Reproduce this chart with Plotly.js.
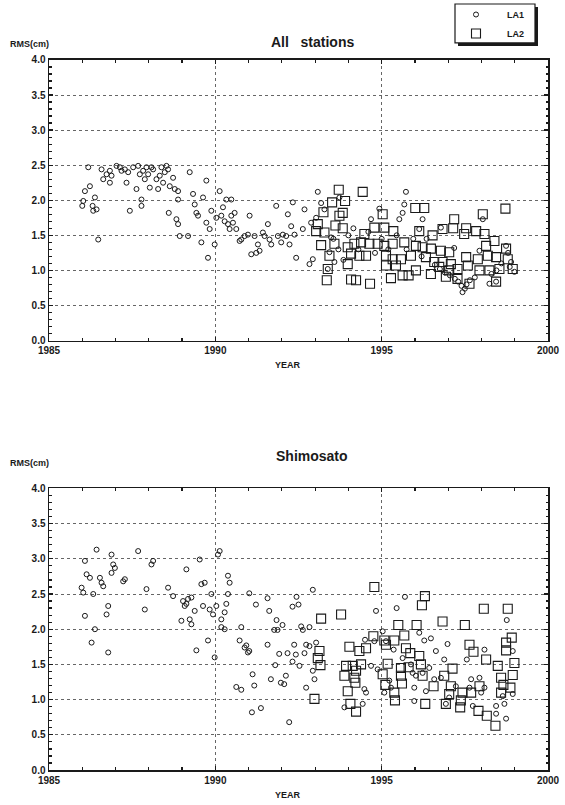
<!DOCTYPE html>
<html>
<head>
<meta charset="utf-8">
<script src="https://cdn.plot.ly/plotly-3.0.1.min.js"></script>
<style>html,body{margin:0;padding:0;background:#fff;}#chart{width:565px;height:805px;}</style>
</head>
<body>
<div id="chart"></div>
<script>
// ---------- Top panel: All stations ----------
const allLA1Year = [1986.00,1986.03,1986.18,1986.23,1986.08,1986.31,1986.33,1986.38,1986.43,1986.48,1986.58,1986.63,1986.73,1986.83,1986.83,1986.88,1987.03,1987.13,1987.18,1987.28,1987.38,1987.33,1987.43,1987.53,1987.63,1987.68,1987.73,1987.78,1987.78,1987.83,1987.88,1987.93,1987.98,1988.03,1988.08,1988.13,1988.23,1988.28,1988.33,1988.38,1988.43,1988.48,1988.53,1988.58,1988.63,1988.73,1988.78,1988.88,1988.88,1988.60,1988.83,1988.88,1988.93,1989.18,1989.23,1989.33,1989.38,1989.43,1989.48,1989.58,1989.63,1989.73,1989.73,1989.78,1989.83,1989.88,1989.98,1990.03,1990.13,1990.18,1990.23,1990.28,1990.33,1990.38,1990.43,1990.48,1990.48,1990.53,1990.58,1990.63,1990.73,1990.78,1990.88,1990.98,1991.03,1991.08,1991.18,1991.23,1991.28,1991.33,1991.43,1991.48,1991.58,1991.63,1991.68,1991.83,1991.88,1991.98,1992.03,1992.13,1992.18,1992.23,1992.28,1992.33,1992.38,1992.43,
  1992.68,1992.63,1993.08,1993.18,1992.83,1992.93,1992.88,1993.03,1993.28,1993.48,1993.43,1993.38,1993.58,1993.73,1994.93,1995.73,1995.68,1995.53,1995.63,1996.23,1996.13,1994.68,1996.78,1997.18,1997.94,1998.04,1997.43,1998.24,1998.44,1998.74,1998.89,1998.99,
  1993.55,1993.70,1993.85,1994.00,1994.15,1994.30,1994.60,1994.80,1995.00,1995.20,1995.45,1995.75,1995.95,1996.20,1996.35,1996.60,1996.75,1996.90,1997.05,1997.20,1997.30,1997.40,1997.50,1997.55,1997.65,1997.80,1998.30,1998.45,1998.60,1998.80,1998.85];
const allLA1Rms = [1.92,1.99,2.47,2.20,2.13,1.92,1.85,2.04,1.87,1.44,2.44,2.30,2.37,2.25,2.42,2.35,2.49,2.47,2.42,2.44,2.40,2.25,1.85,2.47,2.16,2.49,2.37,2.01,1.92,2.42,2.30,2.47,2.37,2.18,2.47,2.44,2.30,2.16,2.35,2.47,2.25,2.40,2.49,2.44,2.20,2.32,2.16,2.13,2.01,1.82,1.73,1.66,1.49,1.49,2.40,2.09,1.94,1.82,1.78,1.40,2.04,2.28,1.68,1.18,1.59,1.85,1.37,1.75,2.13,1.78,1.90,1.70,2.01,1.66,1.59,2.01,1.78,1.68,1.82,1.59,1.42,1.44,1.49,1.51,1.78,1.23,1.49,1.25,1.37,1.28,1.54,1.49,1.66,1.44,1.37,1.92,1.49,1.40,1.51,1.49,1.80,1.37,1.63,1.97,1.51,1.18,
  1.87,1.59,2.12,1.96,1.09,1.16,1.68,1.75,1.87,1.47,1.26,1.02,1.12,2.04,1.88,2.12,1.94,1.73,1.82,1.73,1.59,1.73,1.61,1.32,1.28,1.73,0.69,0.81,0.84,1.35,1.12,0.98,
  1.45,1.30,1.15,1.50,1.60,1.30,1.55,1.25,1.45,1.30,1.50,1.30,1.45,1.20,1.45,1.08,1.02,0.97,0.93,0.88,0.84,0.78,0.74,0.80,0.86,0.90,0.95,1.00,1.10,1.25,1.05];
const allLA2Year = [1993.71,1994.43,1993.90,1993.51,1993.83,1993.73,1993.25,1995.03,1996.01,1996.28,1993.08,1993.61,1993.83,1994.78,1995.08,1997.18,1998.04,1998.72,1993.03,1993.28,1994.48,1995.35,1996.13,1996.53,1996.83,1997.15,1997.54,1997.48,1997.84,1998.09,1998.39,1993.18,1993.58,1993.98,1994.18,1994.38,1994.63,1994.88,1995.08,1995.33,1995.68,1996.03,1996.23,1996.48,1996.78,1997.03,1998.14,1998.74,1993.43,1994.08,1994.33,1994.53,1995.13,1995.33,1995.58,1995.88,1996.33,1996.58,1996.83,1997.08,1997.54,1997.89,1998.19,1998.44,1998.79,1993.98,1993.38,1995.13,1995.43,1996.03,1996.73,1997.03,1997.28,1997.59,1997.94,1998.24,1998.54,1998.94,1993.35,1994.08,1994.23,1994.65,1995.28,1995.63,1995.81,1996.48,1996.93,1997.28,1997.64,1998.44];
const allLA2Rms = [2.15,2.12,1.99,1.97,1.82,1.78,1.83,1.80,1.89,1.89,1.66,1.64,1.60,1.61,1.61,1.73,1.80,1.88,1.56,1.54,1.52,1.56,1.56,1.50,1.59,1.60,1.60,1.52,1.56,1.52,1.42,1.36,1.38,1.33,1.38,1.40,1.38,1.38,1.35,1.38,1.40,1.35,1.33,1.31,1.28,1.26,1.35,1.31,1.21,1.24,1.21,1.21,1.21,1.16,1.16,1.21,1.19,1.12,1.12,1.09,1.19,1.16,1.21,1.19,1.16,1.09,1.02,1.07,1.07,1.00,1.05,1.00,1.02,1.07,1.00,1.00,1.02,1.02,0.86,0.87,0.86,0.81,0.89,0.93,0.93,0.95,0.91,0.88,0.81,0.84];

// ---------- Bottom panel: Shimosato ----------
const shiLA1Year = [1986.43,1986.08,1986.13,1986.23,1985.98,1986.03,1986.33,1986.53,1986.58,1986.63,1986.88,1986.93,1986.88,1986.98,1987.23,1987.28,1987.68,1987.93,1987.88,1988.13,1988.08,1988.58,1988.73,1986.08,1986.38,1986.28,1986.73,1986.78,1986.78,1989.13,1989.03,1989.13,1989.18,1989.28,1989.08,1989.58,1989.68,1989.63,1989.83,1989.93,1989.38,1988.98,1989.23,1989.28,1989.43,1989.53,1990.08,1990.13,1989.88,1990.38,1990.43,1990.38,1990.33,1990.03,1990.28,1990.18,1990.18,1989.98,1989.78,1990.28,1990.78,1990.73,1990.93,1990.88,1990.98,1990.63,1990.78,
  1991.02,1991.22,1991.57,1991.62,1991.84,1992.02,1991.77,1991.87,1992.32,1992.50,1992.44,1992.93,1992.58,1992.63,1992.83,1991.57,1991.92,1992.17,1992.37,1992.42,1992.73,1992.83,1993.03,1992.68,1991.02,1991.80,1992.32,1992.53,1992.93,1991.12,1991.67,1992.12,1991.97,1992.07,1991.17,1992.73,1992.98,1991.10,1991.37,1992.22,
  1994.83,1995.45,1995.70,1994.50,1994.78,1995.03,1995.13,1995.36,1996.13,1996.28,1996.48,1996.98,1996.63,1996.88,1997.56,1998.09,1998.76,1998.94,1994.68,1994.88,1994.48,1994.53,1993.88,1994.43,1995.23,1995.08,1995.28,1995.63,1995.88,1995.93,1995.98,1996.03,1996.23,1996.33,1996.43,1996.58,1996.78,1997.23,1997.64,1997.69,1997.94,1998.09,1997.99,1995.98,1996.93,1997.03,1997.74,1998.44,1998.69,1998.44,1998.74,1998.64,1998.94];
const shiLA1Rms = [3.13,2.97,2.78,2.73,2.59,2.52,2.50,2.73,2.66,2.61,3.06,2.92,2.80,2.87,2.68,2.71,3.11,2.57,2.28,2.97,2.92,2.59,2.47,2.19,2.00,1.81,2.21,2.33,1.67,2.85,2.40,2.36,2.43,2.45,2.33,2.64,2.66,2.33,2.28,2.21,2.26,2.12,2.14,2.07,1.70,2.99,3.06,3.11,2.50,2.76,2.66,2.50,2.36,2.33,2.24,2.14,2.03,1.60,1.84,2.00,2.03,1.84,1.77,1.74,1.67,1.18,1.14,
  2.51,2.35,2.44,2.26,2.13,2.06,1.99,1.99,2.32,2.35,2.46,2.56,2.04,1.99,2.03,1.78,1.65,1.66,1.78,1.64,1.78,1.76,1.81,1.66,1.69,1.49,1.54,1.48,1.41,1.36,1.29,1.34,1.24,1.22,1.20,1.17,1.29,0.82,0.88,0.68,
  2.26,2.30,2.46,1.85,1.83,1.97,1.83,1.71,1.95,1.84,1.87,1.79,1.69,1.57,1.57,1.71,2.13,1.69,1.48,1.43,1.15,1.10,0.89,0.94,1.27,1.10,1.17,1.59,1.50,1.38,1.17,1.34,1.38,1.12,1.45,1.29,1.31,1.19,1.17,1.29,1.31,1.17,1.10,0.98,0.94,1.03,0.91,0.91,0.94,0.80,0.73,1.05,1.08];
const shiLA2Year = [1994.78,1996.30,1996.21,1998.07,1998.79,1993.18,1993.78,1995.50,1996.05,1996.83,1997.50,1994.75,1995.08,1995.38,1995.68,1998.91,1998.74,1994.03,1994.53,1994.33,1995.13,1995.73,1995.86,1996.13,1997.64,1997.76,1998.74,1993.13,1993.08,1993.16,1998.99,1998.14,1997.13,1993.93,1994.13,1994.38,1995.18,1995.58,1995.81,1996.18,1998.49,1993.88,1994.18,1994.23,1995.03,1995.58,1996.23,1996.88,1998.94,1998.59,1994.21,1995.11,1995.61,1996.56,1997.08,1997.94,1998.66,1998.87,1993.98,1992.98,1995.38,1997.03,1997.43,1997.69,1998.59,1995.40,1996.31,1996.93,1997.38,1994.06,1994.23,1997.36,1997.91,1998.16,1998.42];
const shiLA2Rms = [2.60,2.47,2.34,2.29,2.29,2.15,2.21,2.06,2.06,2.11,2.06,1.90,1.84,1.84,1.91,1.88,1.81,1.75,1.73,1.69,1.78,1.73,1.66,1.62,1.78,1.68,1.70,1.69,1.59,1.49,1.52,1.57,1.44,1.48,1.48,1.50,1.51,1.45,1.46,1.50,1.48,1.34,1.31,1.41,1.36,1.34,1.34,1.34,1.35,1.31,1.24,1.21,1.23,1.19,1.19,1.19,1.21,1.17,1.12,1.01,1.10,1.08,1.10,1.10,1.10,0.99,0.94,0.94,0.99,0.94,0.83,0.89,0.84,0.77,0.63];

// ---------- Labels ----------
const seriesNames = ['LA1', 'LA2'];
const panelTitles = ['All&nbsp;&nbsp;&nbsp;stations', 'Shimosato'];
const yLabel = 'RMS(cm)';
const xLabel = 'YEAR';

const ink = '#1a1a1a';
const la1Marker = {symbol: 'circle-open', size: 5, color: ink, line: {width: 1, color: ink}};
const la2Marker = {symbol: 'square-open', size: 9, color: ink, line: {width: 1.1, color: ink}};

const traces = [
  {x: allLA1Year, y: allLA1Rms, name: seriesNames[0], type: 'scatter', mode: 'markers', marker: la1Marker, xaxis: 'x', yaxis: 'y', legendrank: 1},
  {x: allLA2Year, y: allLA2Rms, name: seriesNames[1], type: 'scatter', mode: 'markers', marker: la2Marker, xaxis: 'x', yaxis: 'y', legendrank: 2},
  {x: shiLA1Year, y: shiLA1Rms, name: seriesNames[0], type: 'scatter', mode: 'markers', marker: la1Marker, xaxis: 'x2', yaxis: 'y2', showlegend: false},
  {x: shiLA2Year, y: shiLA2Rms, name: seriesNames[1], type: 'scatter', mode: 'markers', marker: la2Marker, xaxis: 'x2', yaxis: 'y2', showlegend: false}
];

const W = 565, H = 805;
const px = v => v / W;
const py = v => 1 - v / H;

function xAxis(anchor) {
  return {
    anchor: anchor, domain: [px(49), px(548)], range: [1985, 2000], tick0: 1985, dtick: 5,
    ticks: 'inside', ticklen: 4, tickwidth: 1.2, tickcolor: ink,
    showline: true, linecolor: ink, linewidth: 1.5, mirror: 'ticks',
    showgrid: true, gridcolor: '#666', griddash: 'dot', gridwidth: 1, zeroline: false,
    minor: {dtick: 1, ticks: 'inside', ticklen: 3, tickcolor: ink, showgrid: false},
    tickfont: {size: 10, weight: 'bold', color: ink}, automargin: false, fixedrange: true
  };
}
function yAxis(anchor, top, bottom) {
  return {
    anchor: anchor, domain: [py(bottom), py(top)], range: [0, 4], tick0: 0, dtick: 0.5, tickformat: '.1f',
    ticks: 'inside', ticklen: 4, tickwidth: 1.2, tickcolor: ink,
    showline: true, linecolor: ink, linewidth: 1.5, mirror: 'ticks',
    showgrid: true, gridcolor: '#666', griddash: 'dot', gridwidth: 1, zeroline: false,
    minor: {dtick: 0.1, ticks: 'inside', ticklen: 2.5, tickcolor: ink, showgrid: false},
    tickfont: {size: 10, weight: 'bold', color: ink}, automargin: false, fixedrange: true
  };
}

const labelFont = {family: 'Liberation Sans, Arial, sans-serif', size: 9, weight: 'bold', color: ink};
const titleFont = {family: 'Liberation Sans, Arial, sans-serif', size: 14, weight: 'bold', color: ink};

const layout = {
  width: W, height: H,
  margin: {l: 0, r: 0, t: 0, b: 0},
  paper_bgcolor: '#fff', plot_bgcolor: '#fff',
  font: {family: 'Liberation Sans, Arial, sans-serif', size: 10, color: ink},
  xaxis: xAxis('y'),
  yaxis: yAxis('x', 59, 340),
  xaxis2: xAxis('y2'),
  yaxis2: yAxis('x2', 488, 770),
  showlegend: true,
  legend: {
    x: px(445), y: py(-1), xanchor: 'left', yanchor: 'top',
    bgcolor: 'rgba(0,0,0,0)', borderwidth: 0,
    font: {family: 'Liberation Sans, Arial, sans-serif', size: 9, weight: 'bold', color: ink},
    itemwidth: 52, tracegroupgap: 0
  },
  shapes: [
    {type: 'rect', xref: 'paper', yref: 'paper', x0: px(458), x1: px(538), y0: py(45), y1: py(6), fillcolor: ink, line: {width: 0}, layer: 'above'},
    {type: 'rect', xref: 'paper', yref: 'paper', x0: px(455), x1: px(535), y0: py(42), y1: py(3), fillcolor: '#fff', line: {width: 1.2, color: ink}, layer: 'above'}
  ],
  annotations: [
    {text: panelTitles[0], x: px(312), y: py(41), xref: 'paper', yref: 'paper', showarrow: false, font: titleFont, xanchor: 'center', yanchor: 'middle'},
    {text: panelTitles[1], x: px(312), y: py(456), xref: 'paper', yref: 'paper', showarrow: false, font: titleFont, xanchor: 'center', yanchor: 'middle'},
    {text: yLabel, x: px(8), y: py(43), xref: 'paper', yref: 'paper', showarrow: false, font: labelFont, xanchor: 'left', yanchor: 'middle'},
    {text: yLabel, x: px(8), y: py(463), xref: 'paper', yref: 'paper', showarrow: false, font: labelFont, xanchor: 'left', yanchor: 'middle'},
    {text: xLabel, x: px(288), y: py(364), xref: 'paper', yref: 'paper', showarrow: false, font: labelFont, xanchor: 'center', yanchor: 'middle'},
    {text: xLabel, x: px(288), y: py(795), xref: 'paper', yref: 'paper', showarrow: false, font: labelFont, xanchor: 'center', yanchor: 'middle'}
  ]
};

Plotly.newPlot('chart', traces, layout, {staticPlot: true, displayModeBar: false});
</script>
</body>
</html>
